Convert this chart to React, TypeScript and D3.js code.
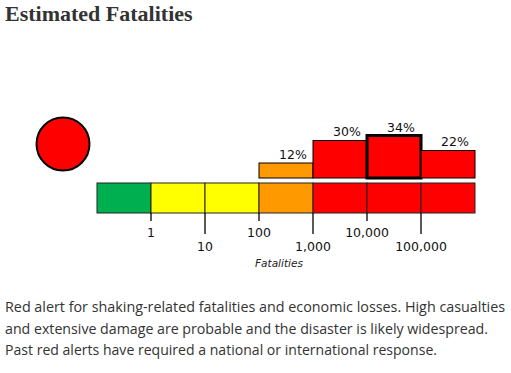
import React, { useRef, useEffect } from 'react';
import * as d3 from 'd3';

// fatality bins (log10 edges), colours and probability of each bin
const binEdges = [0.1, 1, 10, 100, 1000, 10000, 100000, 1000000];
const binColors = ['#00b050', '#ffff00', '#ffff00', '#ff9900', '#ff0000', '#ff0000', '#ff0000'];
const binProbs = [0, 0, 0, 12, 30, 34, 22];
const tickValues = [1, 10, 100, 1000, 10000, 100000];
const tickLabels = ['1', '10', '100', '1,000', '10,000', '100,000'];
const bodyLines = [
  'Red alert for shaking-related fatalities and economic losses. High casualties',
  'and extensive damage are probable and the disaster is likely widespread.',
  'Past red alerts have required a national or international response.',
];
const bodyWidths = [500, 483, 432];

const App: React.FC = () => {
  const svgRef = useRef<SVGSVGElement>(null);

  useEffect(() => {
    const svg = d3.select(svgRef.current);
    const width = 511;
    const height = 373;
    svg.selectAll('*').remove();
    svg.attr('width', width).attr('height', height);

    const x = d3.scaleLog().domain([0.1, 1000000]).range([97, 475]);
    const barTop = 183;
    const barH = 30;
    const probBase = 178;
    const y = d3.scaleLinear().domain([0, 34]).range([probBase, 135.5]);

    // title
    svg.append('text')
      .attr('x', 5).attr('y', 21)
      .style('font-family', '"Liberation Serif", serif')
      .style('font-weight', 'bold')
      .style('font-size', '22px')
      .attr('fill', '#333')
      .text('Estimated Fatalities');

    // alert circle
    svg.append('circle')
      .attr('cx', 63).attr('cy', 144).attr('r', 26.5)
      .attr('fill', '#ff0000').attr('stroke', '#000').attr('stroke-width', 2);

    const bins = binColors.map((c, i) => ({ c, lo: binEdges[i], hi: binEdges[i + 1], p: binProbs[i] }));

    // scale bar
    svg.append('g').selectAll('rect').data(bins).enter().append('rect')
      .attr('x', d => x(d.lo)).attr('y', barTop)
      .attr('width', d => x(d.hi) - x(d.lo)).attr('height', barH)
      .attr('fill', d => d.c).attr('stroke', '#222').attr('stroke-width', 1);

    // probability bars
    const maxP = d3.max(binProbs) as number;
    const shown = bins.filter(d => d.p > 0);
    const pg = svg.append('g');
    pg.selectAll('rect').data(shown).enter().append('rect')
      .attr('x', d => x(d.lo)).attr('y', d => y(d.p))
      .attr('width', d => x(d.hi) - x(d.lo)).attr('height', d => probBase - y(d.p))
      .attr('fill', d => d.c).attr('stroke', '#000')
      .attr('stroke-width', d => (d.p === maxP ? 3 : 1));
    pg.selectAll('text').data(shown).enter().append('text')
      .attr('x', d => (x(d.lo) + x(d.hi)) / 2 + 7)
      .attr('y', d => y(d.p) - (d.p === maxP ? 4 : 4.5))
      .attr('text-anchor', 'middle')
      .style('font-family', '"DejaVu Sans", sans-serif')
      .style('font-size', '12.5px')
      .attr('fill', '#111')
      .text(d => `${d.p}%`);

    // ticks
    const tg = svg.append('g');
    tickValues.forEach((v, i) => {
      const long = i % 2 === 1;
      tg.append('line')
        .attr('x1', x(v)).attr('x2', x(v))
        .attr('y1', barTop + barH).attr('y2', long ? 234 : 221)
        .attr('stroke', '#000').attr('stroke-width', 1.3);
      tg.append('text')
        .attr('x', x(v)).attr('y', long ? 250.5 : 236.5)
        .attr('text-anchor', 'middle')
        .style('font-family', '"DejaVu Sans", sans-serif')
        .style('font-size', '12.5px')
        .attr('fill', '#111')
        .text(tickLabels[i]);
    });

    svg.append('text')
      .attr('x', 279).attr('y', 266.5)
      .attr('text-anchor', 'middle')
      .style('font-family', '"DejaVu Sans", sans-serif')
      .style('font-style', 'italic')
      .style('font-size', '10.5px')
      .attr('fill', '#222')
      .text('Fatalities');

    // description
    svg.append('g').selectAll('text').data(bodyLines).enter().append('text')
      .attr('x', 5).attr('y', (_, i) => 312 + i * 21.7)
      .attr('textLength', (_, i) => bodyWidths[i])
      .attr('lengthAdjust', 'spacingAndGlyphs')
      .style('font-family', '"Open Sans", sans-serif')
      .style('font-size', '14.5px')
      .attr('fill', '#333')
      .text(d => d);
  }, []);

  return <svg ref={svgRef} style={{ position: 'absolute', left: 0, top: 0 }} />;
};

export default App;
